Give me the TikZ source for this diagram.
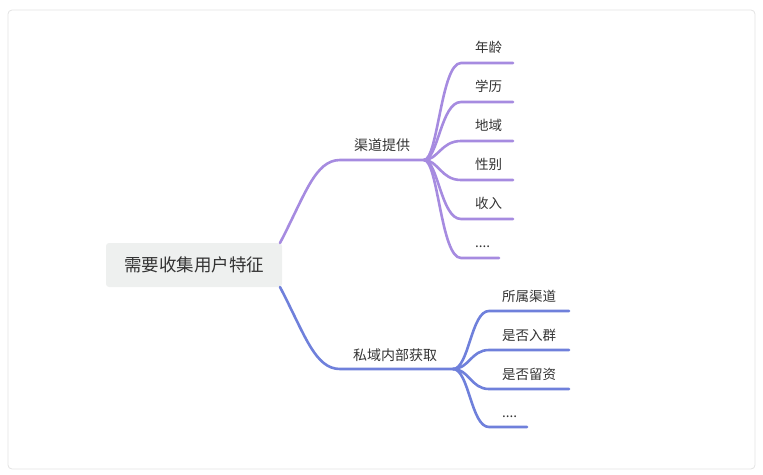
\documentclass[tikz,border=0pt]{standalone}
\usepackage{fontspec}
\setmainfont{Noto Sans CJK SC}
\definecolor{pur}{HTML}{A68BE0}
\definecolor{blu}{HTML}{6F80DB}
\definecolor{rootfill}{HTML}{EEF0EF}
\definecolor{txt}{HTML}{333333}
\definecolor{frame}{HTML}{E2E2E2}
\newcommand\myfourdots{.\kern0pt.\kern0pt.\kern0pt.}
\begin{document}
\begin{tikzpicture}[x=1pt,y=-1pt,
  leaf/.style={anchor=base west,inner sep=0pt,text=txt,font=\fontsize{13.5}{14}\selectfont},
  branchlabel/.style={inner sep=0pt,text=txt,font=\fontsize{14}{15}\selectfont},
  edge/.style={line width=2.6pt,line cap=round},
  rootbox/.style={fill=rootfill,rounded corners=3pt,minimum width=176pt,minimum height=44pt,inner sep=0pt,text=txt,font=\fontsize{17.5}{18}\selectfont}]
\useasboundingbox (0,0) rectangle (763,474);
\draw[frame,line width=0.8pt,rounded corners=4pt] (8,10) rectangle (755,469);
\node[rootbox] (root) at (194,265) {需要收集用户特征};
% branch 1
\coordinate (r1) at (280,243);
\coordinate (h1s) at (340,160);
\coordinate (h1) at (424,160);
\node[branchlabel] (b1) at (382,145) {渠道提供};
\draw[pur,edge] (r1) .. controls (305,195) and (315,160) .. (h1s) -- (h1);
\foreach \i/\y/\t/\e in {1/63/年龄/513,2/102/学历/513,3/141/地域/513,4/180/性别/513,5/219/收入/513,6/258/\myfourdots/499}{
  \coordinate (a\i s) at (461,\y);
  \coordinate (a\i e) at (\e,\y);
  \node[leaf] (a\i) at (475,\y-11) {\t};
  \draw[pur,edge] (h1) .. controls (438,160) and (441,\y) .. (a\i s) -- (a\i e);
}
% branch 2
\coordinate (r2) at (280,287);
\coordinate (h2s) at (340,369);
\coordinate (h2) at (453,369);
\node[branchlabel] (b2) at (395,355) {私域内部获取};
\draw[blu,edge] (r2) .. controls (305,335) and (315,369) .. (h2s) -- (h2);
\foreach \i/\y/\t/\e in {1/311/所属渠道/569,2/350/是否入群/569,3/389/是否留资/569,4/427/\myfourdots/527}{
  \coordinate (c\i s) at (489,\y);
  \coordinate (c\i e) at (\e,\y);
  \node[leaf] (c\i) at (502,\y-10) {\t};
  \draw[blu,edge] (h2) .. controls (469,369) and (471,\y) .. (c\i s) -- (c\i e);
}
\end{tikzpicture}
\end{document}
